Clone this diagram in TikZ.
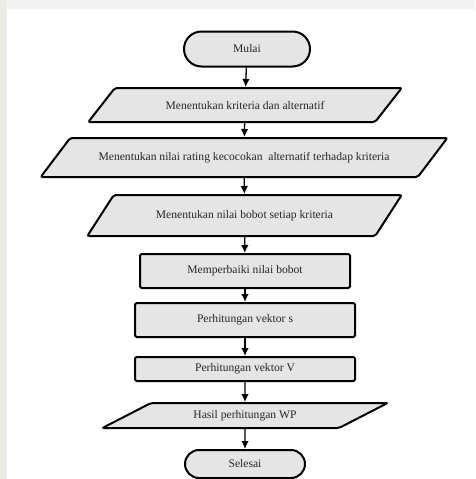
\documentclass[tikz,border=0pt]{standalone}
\usepackage{fontspec}
\setmainfont{Liberation Serif}
\usepackage{tikz}
\usetikzlibrary{arrows.meta,shapes}
\tikzstyle{step node}=[draw=black,line width=2pt,fill=gray!20,text=black!85,
                inner sep=0pt,font=\fontsize{11.6}{13}\selectfont]
\tikzstyle{flow}=[->,>={Latex[length=8pt,width=7.5pt]},draw=black,line width=1.3pt]
\definecolor{wmark}{RGB}{238,236,224}

\begin{document}
\begin{tikzpicture}[x=1pt,y=-1pt]
    \tikzstyle{terminal}=[step node, rounded rectangle, minimum height=35pt]
    \tikzstyle{process}=[step node, rectangle, rounded corners=1.5pt]
    \tikzstyle{data}=[step node, trapezium, trapezium stretches=true,
                      rounded corners=2pt]

    \useasboundingbox (0,0) rectangle (475,479);
    % faint watermark edges
    \fill[gray!10] (0,0) rectangle (475,9);
    \fill[wmark] (0,0) rectangle (7,479);

    % Draw the start and end nodes
    \node[terminal, minimum width=126pt] (mulai) at (247,49) {Mulai};
    \node[terminal, minimum width=120pt, minimum height=28pt] (selesai) at (245,464) {Selesai};

    % Draw the input nodes
    \node[data, minimum width=314pt, minimum height=34pt,
          trapezium left angle=27, trapezium right angle=153]
          (kriteria) at (245,105) {Menentukan kriteria dan alternatif};
    \node[data, minimum width=408pt, minimum height=39pt,
          trapezium left angle=23.4, trapezium right angle=156.6]
          (rating) at (244,157.5) {Menentukan nilai rating kecocokan\ \ alternatif terhadap kriteria};
    \node[data, minimum width=315pt, minimum height=41pt,
          trapezium left angle=30.4, trapezium right angle=149.6]
          (bobot) at (244.5,215.5) {Menentukan nilai bobot setiap kriteria};

    % Draw the process nodes
    \node[process, minimum width=210pt, minimum height=34pt] (perbaiki) at (245,271) {Memperbaiki nilai bobot};
    \node[process, minimum width=220pt, minimum height=34pt] (vs) at (245,320) {Perhitungan vektor s};
    \node[process, minimum width=220pt, minimum height=24pt] (vv) at (245,369) {Perhitungan vektor V};

    % Draw the output node
    \node[data, minimum width=286pt, minimum height=25pt,
          trapezium left angle=21.6, trapezium right angle=158.4]
          (hasil) at (245,415.5) {Hasil perhitungan WP};

    % connect nodes
    \foreach \source / \dest in {mulai/kriteria,kriteria/rating,rating/bobot,bobot/perbaiki,
                                 perbaiki/vs,vs/vv,vv/hasil,hasil/selesai}
        \path[flow] (\source) edge (\dest);

\end{tikzpicture}
\end{document}
